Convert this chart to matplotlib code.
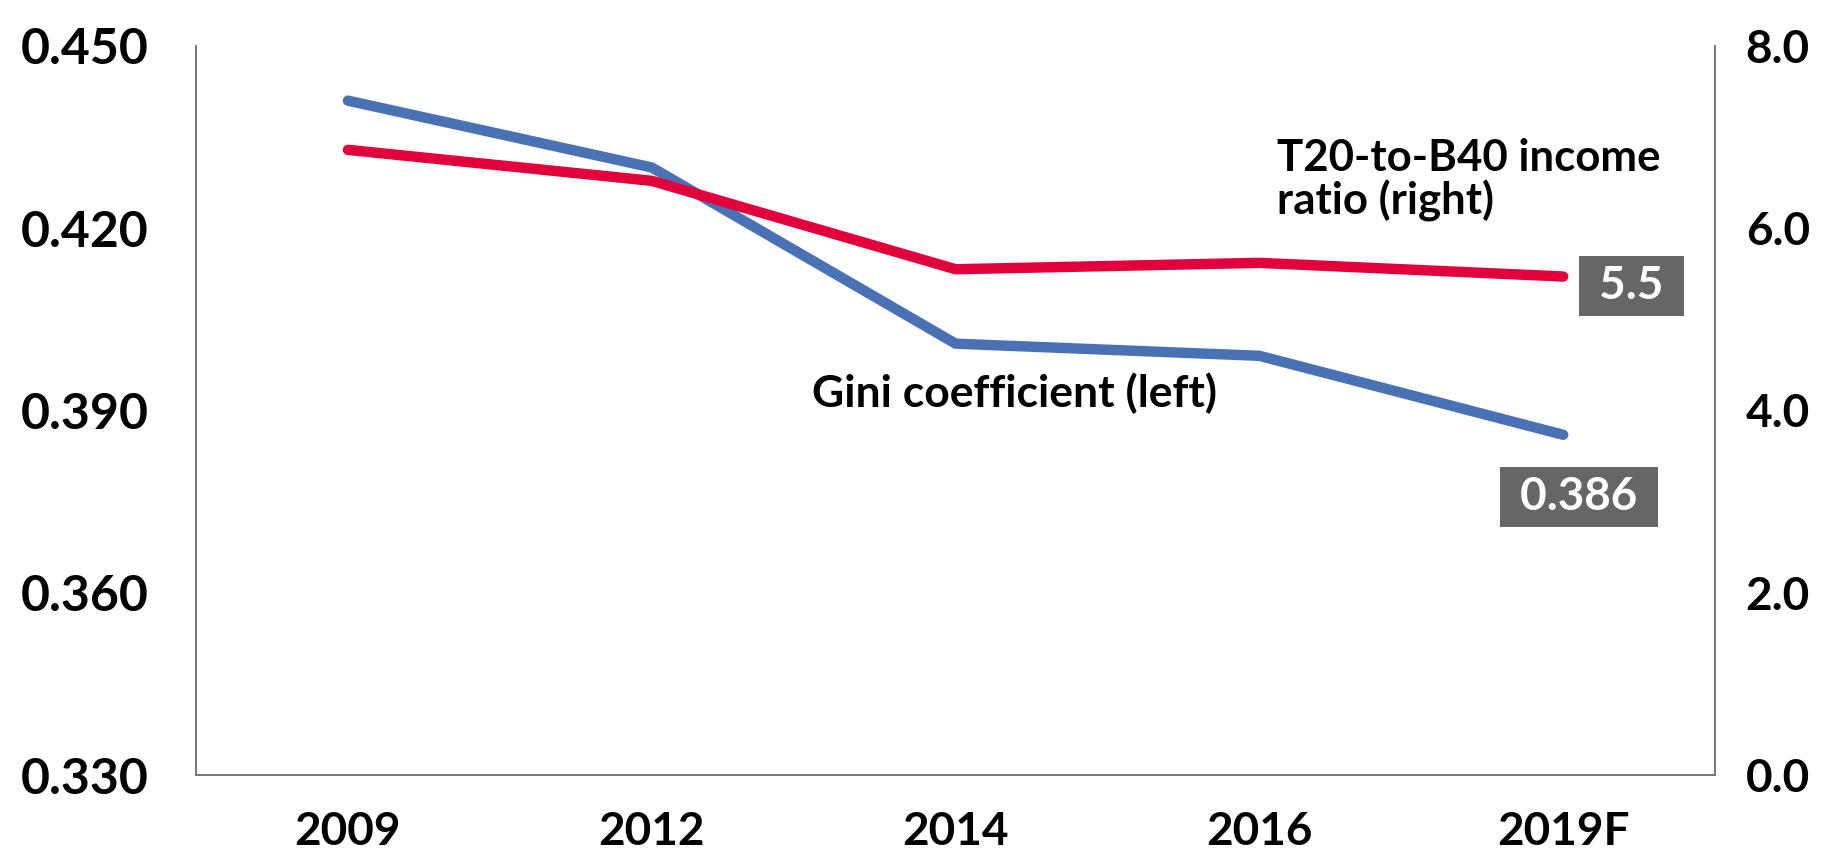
import matplotlib
matplotlib.use("Agg")
import matplotlib.pyplot as plt

plt.rcParams['font.family'] = ['Lato', 'DejaVu Sans']
plt.rcParams['font.weight'] = 'bold'

years = ['2009', '2012', '2014', '2016', '2019F']
gini = [0.441, 0.430, 0.401, 0.399, 0.386]
t20_b40 = [6.86, 6.52, 5.55, 5.62, 5.47]

left_ticks = [0.330, 0.360, 0.390, 0.420, 0.450]
right_ticks = [0.0, 2.0, 4.0, 6.0, 8.0]

blue = '#4a71b4'
red = '#e1003c'
spine_grey = '#777777'
box_grey = '#666666'

fig = plt.figure(figsize=(18.46, 8.56), dpi=100)
ax = fig.add_axes([0.1062, 0.0946, 0.8229, 0.8517])
ax2 = ax.twinx()

x = list(range(len(years)))
ax.plot(x, gini, color=blue, lw=7.5, solid_capstyle='round', solid_joinstyle='round', zorder=3)
ax2.plot(x, t20_b40, color=red, lw=7.5, solid_capstyle='round', solid_joinstyle='round', zorder=3)

ax.set_xlim(-0.5, 4.5)
ax.set_ylim(left_ticks[0], left_ticks[-1])
ax2.set_ylim(right_ticks[0], right_ticks[-1])
ax.set_xticks(x)
ax.set_xticklabels(years)
ax.set_yticks(left_ticks)
ax.set_yticklabels([f'{v:.3f}' for v in left_ticks])
ax2.set_yticks(right_ticks)
ax2.set_yticklabels([f'{v:.1f}' for v in right_ticks])

ax.tick_params(axis='x', length=0, pad=26, labelsize=33)
ax.tick_params(axis='y', length=0, pad=34, labelsize=36)
ax2.tick_params(axis='y', length=0, pad=22, labelsize=33)

for a in (ax, ax2):
    a.spines['top'].set_visible(False)
    for s in ('left', 'right', 'bottom'):
        a.spines[s].set_color(spine_grey)
        a.spines[s].set_linewidth(1.2)

# end-of-line value boxes
ax2.annotate(f' {t20_b40[-1]:.1f} ', xy=(x[-1], t20_b40[-1]), xytext=(49, -7),
             textcoords='offset points', ha='center', va='center',
             color='white', fontsize=33, fontweight='bold',
             bbox=dict(boxstyle='square,pad=0.2', fc=box_grey, ec='none'))
ax.annotate(f' {gini[-1]:.3f} ', xy=(x[-1], gini[-1]), xytext=(11.5, -44.6),
            textcoords='offset points', ha='center', va='center',
            color='white', fontsize=33, fontweight='bold',
            bbox=dict(boxstyle='square,pad=0.2', fc=box_grey, ec='none'))

ax.text(0.7117, 0.874, 'T20-to-B40 income\nratio (right)', transform=ax.transAxes,
        ha='left', va='top', fontsize=31.5, fontweight='bold', linespacing=1.05, color='black')
ax.text(0.4055, 0.5048, 'Gini coefficient (left)', transform=ax.transAxes,
        ha='left', va='baseline', fontsize=32, fontweight='bold', color='black')

fig.savefig('out.png', dpi=100)
